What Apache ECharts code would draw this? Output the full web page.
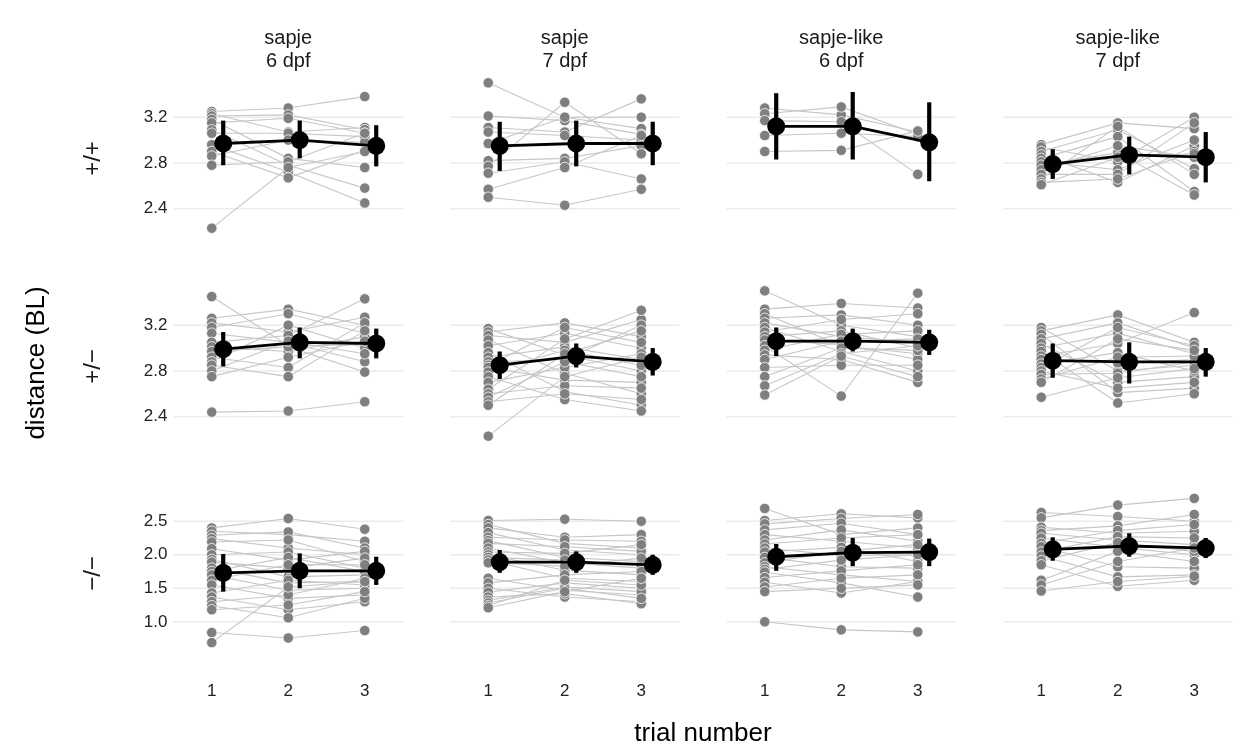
<!DOCTYPE html>
<html><head><meta charset="utf-8">
<script src="https://cdn.jsdelivr.net/npm/echarts@6/dist/echarts.min.js"></script>
<style>html,body{margin:0;padding:0;background:#fff}#c{width:1238px;height:752px}</style>
</head><body><div id="c"></div>
<script>
const xTicks = [1, 2, 3];
const columnTop = ['sapje', 'sapje', 'sapje-like', 'sapje-like'];
const columnBottom = ['6 dpf', '7 dpf', '6 dpf', '7 dpf'];
const rowLabels = ['+/+', '+/\u2212', '\u2212/\u2212'];
const yTicksRow1 = [2.4, 2.8, 3.2];
const yTicksRow2 = [2.4, 2.8, 3.2];
const yTicksRow3 = [1.0, 1.5, 2.0, 2.5];

// each fish: [trial 1, trial 2, trial 3]
const fish_wt_s6 = [[3.25,3.28,3.38],[3.23,3.07,3.11],[3.21,3.22,3.09],[3.18,2.84,2.76],[3.15,3.19,3.06],[3.09,2.78,2.58],[3.06,3.06,3.03],[2.96,2.72,2.45],[2.90,2.67,2.91],[2.86,3.00,2.98],[2.78,2.81,3.06],[2.23,2.76,2.90]];
const fish_wt_s7 = [[3.50,3.20,3.10],[3.21,3.17,3.05],[3.11,3.07,3.36],[3.07,3.04,3.00],[2.97,3.20,3.20],[2.82,2.84,2.95],[2.77,3.33,2.88],[2.71,2.81,2.66],[2.57,2.76,3.04],[2.50,2.43,2.57]];
const fish_wt_l6 = [[3.28,3.22,3.07],[3.23,3.29,3.05],[3.17,3.16,2.70],[3.04,3.06,3.03],[2.90,2.91,3.08]];
const fish_wt_l7 = [[2.96,3.15,3.10],[2.94,2.81,3.20],[2.90,3.09,2.75],[2.87,2.63,2.95],[2.84,3.03,2.55],[2.81,2.74,3.00],[2.78,2.89,2.52],[2.74,2.95,2.85],[2.70,2.70,3.15],[2.66,3.12,2.70],[2.63,2.66,2.90],[2.61,2.85,2.88]];

const fish_het_s6 = [[3.45,3.02,3.03],[3.26,3.34,3.20],[3.22,3.14,3.27],[3.18,3.30,3.13],[3.13,3.05,2.88],[3.05,3.11,3.43],[3.01,2.97,3.10],[2.97,3.01,2.79],[2.92,2.83,3.22],[2.88,3.20,3.00],[2.85,2.75,3.15],[2.80,3.06,2.95],[2.75,2.92,3.06],[2.44,2.45,2.53]];
const fish_het_s7 = [[3.17,2.94,2.80],[3.14,3.22,3.10],[3.11,3.05,3.25],[3.07,2.78,2.60],[3.02,3.13,3.00],[2.96,2.62,2.50],[2.92,3.01,2.90],[2.88,2.90,3.20],[2.85,3.18,3.05],[2.83,2.72,2.70],[2.79,2.98,2.85],[2.75,2.55,2.45],[2.70,2.83,2.95],[2.64,3.08,3.33],[2.60,2.67,2.65],[2.57,2.88,2.75],[2.53,2.60,2.55],[2.50,2.95,3.15],[2.23,2.75,2.92]];
const fish_het_l6 = [[3.50,3.20,3.10],[3.34,3.39,3.35],[3.30,3.02,2.95],[3.26,3.29,3.20],[3.22,3.10,3.05],[3.18,2.97,2.80],[3.14,3.25,3.30],[3.10,3.15,3.00],[3.07,3.03,2.90],[3.02,2.58,3.48],[2.98,3.12,3.15],[2.94,2.90,2.70],[2.90,3.06,3.08],[2.83,2.85,2.85],[2.75,3.00,2.98],[2.67,2.95,3.02],[2.59,2.93,2.75]];
const fish_het_l7 = [[3.18,2.80,2.85],[3.15,3.29,3.05],[3.12,2.61,2.65],[3.08,3.22,3.00],[3.04,2.70,2.75],[3.00,3.13,2.95],[2.97,2.52,2.60],[2.93,3.04,3.31],[2.90,2.87,2.90],[2.86,2.96,2.80],[2.83,3.18,3.02],[2.80,2.65,2.70],[2.77,2.78,2.88],[2.73,2.92,2.93],[2.70,3.08,2.98],[2.57,2.74,2.82]];

const fish_hom_s6 = [[2.40,2.54,2.38],[2.35,2.30,2.20],[2.29,2.34,2.10],[2.24,2.10,2.00],[2.19,2.22,1.90],[2.09,1.92,2.05],[2.00,2.04,1.80],[1.93,1.67,1.70],[1.89,1.80,1.95],[1.80,1.58,1.60],[1.75,1.96,1.75],[1.70,1.47,1.50],[1.62,1.85,1.85],[1.55,1.35,1.40],[1.43,1.62,1.55],[1.37,1.18,1.30],[1.30,1.40,1.65],[1.24,1.06,1.35],[1.18,1.25,1.45],[0.84,0.76,0.87],[0.69,1.52,1.60]];
const fish_hom_s7 = [[2.51,2.53,2.50],[2.45,2.17,2.10],[2.40,2.26,2.30],[2.33,2.07,2.00],[2.26,2.22,2.20],[2.21,1.96,1.90],[2.17,2.12,2.05],[2.10,1.88,1.80],[2.04,2.02,2.15],[2.00,1.77,1.70],[1.96,1.92,1.85],[1.92,1.65,1.60],[1.88,1.83,1.95],[1.65,1.47,1.40],[1.58,1.70,1.75],[1.50,1.37,1.30],[1.44,1.58,1.50],[1.37,1.42,1.27],[1.32,1.52,1.45],[1.28,1.50,1.35],[1.24,1.62,1.55],[1.21,1.45,1.65]];
const fish_hom_l6 = [[2.69,2.30,2.40],[2.51,2.61,2.55],[2.46,2.54,2.60],[2.37,2.47,2.30],[2.30,2.20,2.10],[2.22,2.37,2.20],[2.16,2.25,2.30],[2.10,1.99,2.00],[2.04,2.11,1.90],[1.96,1.82,1.80],[1.88,2.05,2.15],[1.82,1.70,1.60],[1.78,1.92,2.00],[1.74,1.58,1.37],[1.66,1.76,1.85],[1.59,1.43,1.60],[1.52,1.65,1.70],[1.45,1.50,1.55],[1.00,0.88,0.85]];
const fish_hom_l7 = [[2.63,2.57,2.50],[2.55,2.74,2.84],[2.41,2.32,2.35],[2.36,2.43,2.60],[2.32,2.22,2.15],[2.25,2.11,2.00],[2.17,2.36,2.45],[2.12,1.82,1.80],[2.04,2.27,2.25],[1.98,1.67,1.70],[1.91,2.18,2.05],[1.85,1.53,1.62],[1.62,2.05,1.90],[1.55,1.90,2.10],[1.46,1.60,1.68]];

// group means with error-bar limits per trial
const mean_wt_s6 = [2.97,3.00,2.95], lo_wt_s6 = [2.78,2.84,2.77], hi_wt_s6 = [3.17,3.17,3.13];
const mean_wt_s7 = [2.95,2.97,2.97], lo_wt_s7 = [2.73,2.77,2.78], hi_wt_s7 = [3.16,3.17,3.16];
const mean_wt_l6 = [3.12,3.12,2.98], lo_wt_l6 = [2.83,2.83,2.64], hi_wt_l6 = [3.41,3.42,3.33];
const mean_wt_l7 = [2.79,2.87,2.85], lo_wt_l7 = [2.66,2.70,2.63], hi_wt_l7 = [2.92,3.03,3.07];
const mean_het_s6 = [2.99,3.05,3.04], lo_het_s6 = [2.84,2.91,2.91], hi_het_s6 = [3.14,3.18,3.17];
const mean_het_s7 = [2.85,2.93,2.88], lo_het_s7 = [2.73,2.83,2.76], hi_het_s7 = [2.97,3.04,3.00];
const mean_het_l6 = [3.06,3.06,3.05], lo_het_l6 = [2.93,2.97,2.94], hi_het_l6 = [3.18,3.17,3.16];
const mean_het_l7 = [2.89,2.88,2.88], lo_het_l7 = [2.74,2.69,2.75], hi_het_l7 = [3.04,3.05,3.00];
const mean_hom_s6 = [1.73,1.76,1.76], lo_hom_s6 = [1.45,1.50,1.55], hi_hom_s6 = [2.01,2.02,1.97];
const mean_hom_s7 = [1.89,1.89,1.85], lo_hom_s7 = [1.73,1.73,1.70], hi_hom_s7 = [2.07,2.05,2.00];
const mean_hom_l6 = [1.97,2.03,2.04], lo_hom_l6 = [1.76,1.83,1.83], hi_hom_l6 = [2.16,2.25,2.24];
const mean_hom_l7 = [2.08,2.13,2.10], lo_hom_l7 = [1.91,1.97,1.95], hi_hom_l7 = [2.26,2.32,2.25];

const panels = [
  [fish_wt_s6, mean_wt_s6, lo_wt_s6, hi_wt_s6], [fish_wt_s7, mean_wt_s7, lo_wt_s7, hi_wt_s7],
  [fish_wt_l6, mean_wt_l6, lo_wt_l6, hi_wt_l6], [fish_wt_l7, mean_wt_l7, lo_wt_l7, hi_wt_l7],
  [fish_het_s6, mean_het_s6, lo_het_s6, hi_het_s6], [fish_het_s7, mean_het_s7, lo_het_s7, hi_het_s7],
  [fish_het_l6, mean_het_l6, lo_het_l6, hi_het_l6], [fish_het_l7, mean_het_l7, lo_het_l7, hi_het_l7],
  [fish_hom_s6, mean_hom_s6, lo_hom_s6, hi_hom_s6], [fish_hom_s7, mean_hom_s7, lo_hom_s7, hi_hom_s7],
  [fish_hom_l6, mean_hom_l6, lo_hom_l6, hi_hom_l6], [fish_hom_l7, mean_hom_l7, lo_hom_l7, hi_hom_l7]
];
const rowTicks = [yTicksRow1, yTicksRow2, yTicksRow3];
const rowRanges = [[2.17, 3.56], [2.17, 3.56], [0.58, 2.95]];

const FONT = '"Liberation Sans", Arial, Helvetica, sans-serif';
const gridLefts = [173.5, 450, 726.5, 1003];
const gridW = 229.5;
const rowTops = [76, 284, 491];
const gridH = 159;
const dodge = 0.15;

const grids = [], xAxes = [], yAxes = [], series = [];
panels.forEach((p, i) => {
  const r = Math.floor(i / 4), c = i % 4;
  const [fish, mean, lo, hi] = p;
  grids.push({left: gridLefts[c], top: rowTops[r], width: gridW, height: gridH});
  xAxes.push({
    gridIndex: i, type: 'value', min: 0.5, max: 3.5, interval: 0.5,
    axisLine: {show: false}, axisTick: {show: false}, splitLine: {show: false},
    axisLabel: {show: r === 2, margin: 33, fontSize: 17, color: '#222', fontFamily: FONT,
      formatter: v => (xTicks.indexOf(v) >= 0 ? String(v) : '')}
  });
  yAxes.push({
    gridIndex: i, type: 'value', min: rowRanges[r][0], max: rowRanges[r][1],
    axisLine: {show: false}, axisTick: {show: false}, splitLine: {show: false},
    axisLabel: {show: c === 0, customValues: rowTicks[r], margin: 6, fontSize: 17, color: '#222', fontFamily: FONT,
      formatter: v => v.toFixed(1)}
  });
  // horizontal grid lines from the tick values
  series.push({
    type: 'custom', xAxisIndex: i, yAxisIndex: i, silent: true, z: 0,
    data: rowTicks[r].map(v => [v]),
    encode: {y: 0},
    renderItem: (params, api) => {
      const yv = api.value(0);
      const a = api.coord([0.5, yv]), b = api.coord([3.5, yv]);
      return {type: 'line', shape: {x1: a[0], y1: a[1], x2: b[0], y2: b[1]},
        style: {stroke: '#ebebeb', lineWidth: 1.6}};
    }
  });
  series.push({
    type: 'lines', coordinateSystem: 'cartesian2d', xAxisIndex: i, yAxisIndex: i, polyline: true, silent: true, z: 1,
    lineStyle: {color: '#c6c6c6', width: 1.1, opacity: 1},
    data: fish.map(f => ({coords: xTicks.map((t, k) => [t, f[k]])}))
  });
  const pts = [];
  fish.forEach(f => xTicks.forEach((t, k) => pts.push([t, f[k]])));
  series.push({
    type: 'scatter', xAxisIndex: i, yAxisIndex: i, silent: true, z: 2,
    symbolSize: 10.5, itemStyle: {color: '#7f7f7f', borderColor: '#ffffff', borderWidth: 0.8, opacity: 1},
    data: pts
  });
  series.push({
    type: 'line', xAxisIndex: i, yAxisIndex: i, silent: true, z: 3,
    symbol: 'circle', symbolSize: 18, showSymbol: true,
    lineStyle: {color: '#000', width: 2.8}, itemStyle: {color: '#000'},
    data: xTicks.map((t, k) => [t + dodge, mean[k]])
  });
  series.push({
    type: 'custom', xAxisIndex: i, yAxisIndex: i, silent: true, z: 4,
    data: xTicks.map((t, k) => [t + dodge, lo[k], hi[k]]),
    encode: {x: 0, y: [1, 2]},
    renderItem: (params, api) => {
      const a = api.coord([api.value(0), api.value(1)]);
      const b = api.coord([api.value(0), api.value(2)]);
      return {type: 'line', shape: {x1: a[0], y1: a[1], x2: b[0], y2: b[1]},
        style: {stroke: '#000', lineWidth: 4.2}};
    }
  });
});

const graphic = [];
for (let c = 0; c < 4; c++) {
  const cx = gridLefts[c] + gridW / 2;
  graphic.push({type: 'text', x: cx, y: 38, style: {text: columnTop[c], textAlign: 'center', textVerticalAlign: 'middle', font: '20px ' + FONT, fill: '#1a1a1a'}});
  graphic.push({type: 'text', x: cx, y: 61, style: {text: columnBottom[c], textAlign: 'center', textVerticalAlign: 'middle', font: '20px ' + FONT, fill: '#1a1a1a'}});
}
for (let r = 0; r < 3; r++) {
  graphic.push({type: 'text', x: 93, y: rowTops[r] + gridH / 2 + 3, rotation: Math.PI / 2,
    style: {text: rowLabels[r], textAlign: 'center', textVerticalAlign: 'middle', font: '24px ' + FONT, fill: '#1a1a1a'}});
}
graphic.push({type: 'text', x: 37, y: 363, rotation: Math.PI / 2,
  style: {text: 'distance (BL)', textAlign: 'center', textVerticalAlign: 'middle', font: '26px ' + FONT, fill: '#000'}});
graphic.push({type: 'text', x: 703, y: 734,
  style: {text: 'trial number', textAlign: 'center', textVerticalAlign: 'middle', font: '26px ' + FONT, fill: '#000'}});

const chart = echarts.init(document.getElementById('c'), null, {renderer: 'canvas'});
chart.setOption({
  animation: false, backgroundColor: '#fff',
  grid: grids, xAxis: xAxes, yAxis: yAxes, series: series, graphic: graphic
});
</script>
</body></html>
